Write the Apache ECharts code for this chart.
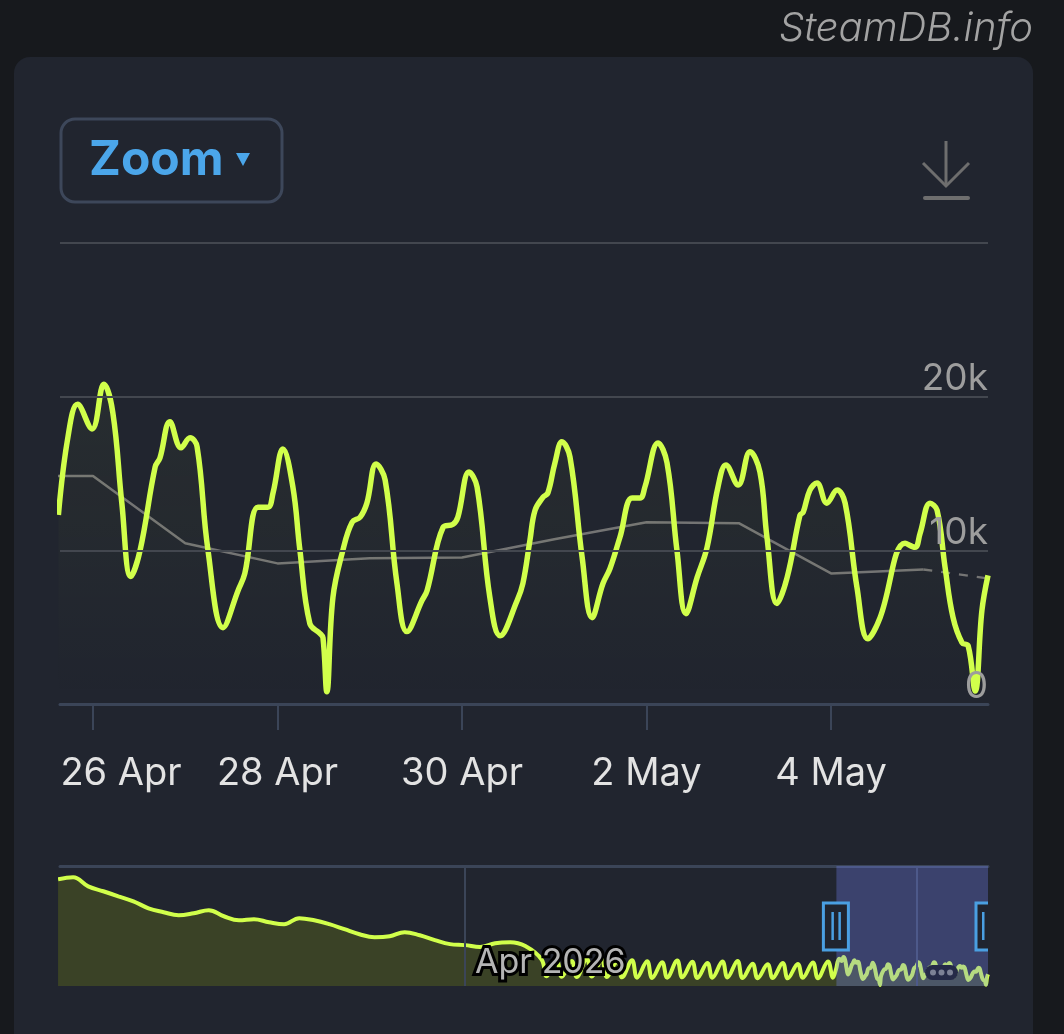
<!DOCTYPE html>
<html><head><meta charset="utf-8">
<script src="https://cdn.jsdelivr.net/npm/echarts@6/dist/echarts.min.js"></script>
<style>
html,body{margin:0;padding:0;background:#17191d;overflow:hidden;}
#card{position:absolute;left:14px;top:57px;width:1019px;height:1010px;border-radius:16px;background:#21252f;}
#chart{position:absolute;left:0;top:0;width:1064px;height:1034px;}
</style>
</head><body><div id="card"></div><div id="chart"></div>
<script>
// ---------- DATA ----------
const mainTimes = [
 '2026-04-25T15:00','2026-04-25T17:30','2026-04-25T20:00','2026-04-25T23:45',
 '2026-04-26T02:50','2026-04-26T05:10','2026-04-26T07:30','2026-04-26T09:50','2026-04-26T12:15','2026-04-26T16:10','2026-04-26T17:25','2026-04-26T20:00','2026-04-26T22:55',
 '2026-04-27T01:15','2026-04-27T03:05','2026-04-27T05:55','2026-04-27T09:50','2026-04-27T13:45','2026-04-27T15:30','2026-04-27T18:55','2026-04-27T21:30','2026-04-27T22:50',
 '2026-04-28T01:25','2026-04-28T04:00','2026-04-28T05:50','2026-04-28T08:25','2026-04-28T11:05','2026-04-28T11:50','2026-04-28T12:50','2026-04-28T14:25','2026-04-28T17:00','2026-04-28T19:25','2026-04-28T21:30','2026-04-28T23:15',
 '2026-04-29T01:40','2026-04-29T04:00','2026-04-29T07:05','2026-04-29T09:40','2026-04-29T13:35','2026-04-29T14:55','2026-04-29T19:05','2026-04-29T21:40','2026-04-29T22:55',
 '2026-04-30T01:50','2026-04-30T03:55','2026-04-30T07:15','2026-04-30T09:55','2026-04-30T14:20','2026-04-30T15:50','2026-04-30T17:40','2026-04-30T19:00','2026-04-30T21:05','2026-04-30T22:20',
 '2026-05-01T00:10','2026-05-01T02:00','2026-05-01T04:05','2026-05-01T07:15','2026-05-01T09:50','2026-05-01T12:40','2026-05-01T14:30','2026-05-01T17:05','2026-05-01T20:15','2026-05-01T22:20','2026-05-01T23:35',
 '2026-05-02T03:00','2026-05-02T05:20','2026-05-02T07:55','2026-05-02T10:15','2026-05-02T13:10','2026-05-02T15:45','2026-05-02T18:35','2026-05-02T20:40','2026-05-02T23:50',
 '2026-05-03T02:55','2026-05-03T05:30','2026-05-03T07:20','2026-05-03T09:55','2026-05-03T12:35','2026-05-03T15:55','2026-05-03T16:45','2026-05-03T18:30','2026-05-03T20:20','2026-05-03T22:55',
 '2026-05-04T01:35','2026-05-04T03:40','2026-05-04T06:45','2026-05-04T09:35','2026-05-04T12:45','2026-05-04T19:15','2026-05-04T21:50','2026-05-04T23:10',
 '2026-05-05T01:45','2026-05-05T03:35','2026-05-05T05:40','2026-05-05T07:45','2026-05-05T10:05','2026-05-05T11:40','2026-05-05T13:30','2026-05-05T15:15','2026-05-05T16:50'
];
const mainValues = [
 12300,17400,19500,17900,
 20800,18950,13070,8300,10000,15420,16010,18370,16670,
 17320,16730,10000,4970,7390,8500,12810,12810,13730,
 16600,14120,10000,5230,4580,4310,800,6930,10000,11830,12160,13070,
 15620,14580,7840,4710,6730,7390,11500,11700,12160,
 15100,14120,6930,4440,6730,7840,10650,12610,13460,13730,
 15690,17060,16080,9540,5620,7840,8820,10850,13400,13400,14120,
 16990,15690,10000,5880,8240,10200,14120,15560,14250,
 16410,15100,10850,6540,8240,12290,12480,13920,14380,13070,
 13920,13070,7580,4250,5620,10460,10200,11110,
 13070,12610,8890,5620,3990,3790,850,6080,8370
];
const avgTimes = ['2026-04-25T00:00','2026-04-26T00:00','2026-04-27T00:00','2026-04-28T00:00','2026-04-29T00:00','2026-04-30T00:00','2026-05-01T00:00','2026-05-02T00:00','2026-05-03T00:00','2026-05-04T00:00','2026-05-05T00:00'];
const avgValues = [14840,14840,10460,9150,9480,9540,10720,11830,11770,8500,8760];
const avgProjTimes = ['2026-05-05T00:00','2026-05-05T16:50'];
const avgProjValues = [8760,8170];

const navDailyTimes = ['2026-03-05T00:00','2026-03-06T00:00','2026-03-07T00:00','2026-03-08T00:00','2026-03-09T00:00','2026-03-10T00:00','2026-03-11T00:00','2026-03-12T00:00','2026-03-13T00:00','2026-03-14T00:00','2026-03-15T00:00','2026-03-16T00:00','2026-03-17T00:00','2026-03-18T00:00','2026-03-19T00:00','2026-03-20T00:00','2026-03-21T00:00','2026-03-22T00:00','2026-03-23T00:00','2026-03-24T00:00','2026-03-25T00:00','2026-03-26T00:00','2026-03-27T00:00','2026-03-28T00:00','2026-03-29T00:00','2026-03-30T00:00','2026-03-31T00:00','2026-04-01T00:00','2026-04-02T00:00','2026-04-03T00:00','2026-04-04T00:00','2026-04-05T00:00'];
const navDailyValues = [76400,77900,71400,67900,64300,60700,55700,52900,50700,52100,54300,50000,47100,47900,45700,44300,48600,47100,44300,40700,37100,35000,35700,38600,36400,32900,30000,29300,27900,30700,31400,28600];
const navTailTimes = [
 '2026-04-06T02:00','2026-04-06T10:00','2026-04-07T02:00','2026-04-07T10:00','2026-04-08T02:00','2026-04-08T10:00','2026-04-09T02:00','2026-04-09T10:00',
 '2026-04-10T02:00','2026-04-10T10:00','2026-04-11T02:00','2026-04-11T10:00','2026-04-12T02:00','2026-04-12T10:00','2026-04-13T02:00','2026-04-13T10:00',
 '2026-04-14T02:00','2026-04-14T10:00','2026-04-15T02:00','2026-04-15T10:00','2026-04-16T02:00','2026-04-16T10:00','2026-04-17T02:00','2026-04-17T10:00',
 '2026-04-18T02:00','2026-04-18T10:00','2026-04-19T02:00','2026-04-19T10:00','2026-04-20T02:00','2026-04-20T10:00','2026-04-21T02:00','2026-04-21T10:00',
 '2026-04-22T02:00','2026-04-22T10:00','2026-04-23T02:00','2026-04-23T10:00','2026-04-24T02:00','2026-04-24T10:00','2026-04-25T02:00','2026-04-25T10:00'
];
const navTailValues = [
 19000,7000,18500,6600,18000,6500,19500,6800,
 18800,6500,17500,6200,18500,6000,17800,5800,
 17000,6000,18200,6200,17300,5700,16500,6000,
 17600,6100,18000,5700,16000,5600,15500,5800,
 16500,5500,15800,5900,16800,5600,17500,6000
];

const xTickDates = ['2026-04-26T00:00','2026-04-28T00:00','2026-04-30T00:00','2026-05-02T00:00','2026-05-04T00:00'];
const xTickLabels = ['26 Apr','28 Apr','30 Apr','2 May','4 May'];
const yTickValues = [0,10000,20000,30000];
const yTickLabels = ['0','10k','20k',''];
const navMonthDates = ['2026-04-01T00:00','2026-05-01T00:00'];
const navMonthLabel = 'Apr 2026';
const viewStart = '2026-04-25T15:25', viewEnd = '2026-05-05T16:50';
const navStart = '2026-03-05T03:05';

// ---------- BUILD ----------
const ts = s => new Date(s).getTime();
const LIME = '#d1ff4b';
const AXIS = '#3b4558';
const FONT = 'Inter, "Noto Sans", sans-serif';
const pair = (T, V) => T.map((t, i) => [ts(t), V[i]]);
const mainData = pair(mainTimes, mainValues);
const navData = pair(navDailyTimes, navDailyValues).concat(pair(navTailTimes, navTailValues), mainData);
const xTickVals = xTickDates.map(ts);

const option = {
  animation: false,
  backgroundColor: 'transparent',
  title: {
    text: 'SteamDB.info', right: 26, top: 4,
    textStyle: {fontFamily: FONT, fontStyle: 'italic', fontWeight: 300, fontSize: 40, color: '#a3a3a3'}
  },
  grid: [
    {left: 60, right: 76, top: 243, height: 461},
    {left: 60, right: 76, top: 866, height: 120}
  ],
  xAxis: [
    {
      type: 'value', gridIndex: 0, min: ts(viewStart), max: ts(viewEnd), z: 10,
      axisLine: {show: true, lineStyle: {color: AXIS, width: 3}},
      axisTick: {show: true, customValues: xTickVals, length: 26, lineStyle: {color: AXIS, width: 2}},
      axisLabel: {
        customValues: xTickVals, color: '#e3e3e3', fontSize: 38, fontFamily: FONT, margin: 51,
        formatter: (v) => {
          const i = xTickVals.indexOf(v);
          const s = i >= 0 ? xTickLabels[i] : '';
          return i === 0 ? '{first|' + s + '}' : s;
        },
        rich: {first: {fontSize: 38, fontFamily: FONT, color: '#e3e3e3', padding: [0, 0, 0, 56]}}
      },
      splitLine: {show: false}
    },
    {
      type: 'value', gridIndex: 1, min: ts(navStart), max: ts(viewEnd), z: 10,
      axisLine: {show: false}, axisTick: {show: false}, splitLine: {show: false},
      axisLabel: {
        customValues: [ts(navMonthDates[0])], inside: true, margin: 6, align: 'left',
        formatter: () => navMonthLabel, padding: [0, 0, 0, 10],
        color: '#b4b4b4', fontSize: 34, fontFamily: FONT,
        textBorderColor: '#000', textBorderWidth: 6
      }
    },
    {
      type: 'value', gridIndex: 1, position: 'top', min: ts(navStart), max: ts(viewEnd),
      axisLine: {show: true, lineStyle: {color: AXIS, width: 3}},
      axisTick: {show: false}, axisLabel: {show: false}, splitLine: {show: false}
    }
  ],
  yAxis: [
    {
      type: 'value', gridIndex: 0, position: 'right', min: 0, max: 30000, interval: 10000, z: 10,
      axisLine: {show: false}, axisTick: {show: false},
      splitLine: {lineStyle: {color: '#43474f', width: 2}},
      axisLabel: {
        inside: true, margin: 0, align: 'right', verticalAlign: 'bottom', padding: [0, 0, -1, 0],
        color: '#9d9d9d', fontSize: 37, fontFamily: FONT,
        formatter: (v) => { const i = yTickValues.indexOf(v); return i >= 0 ? yTickLabels[i] : ''; }
      }
    },
    {type: 'value', gridIndex: 1, min: 0, max: 86000, show: false}
  ],
  series: [
    {
      name: 'avg', type: 'line', xAxisIndex: 0, yAxisIndex: 0, data: pair(avgTimes, avgValues),
      symbol: 'none', lineStyle: {color: '#747474', width: 2.5}, z: 2, silent: true
    },
    {
      name: 'avgProj', type: 'line', xAxisIndex: 0, yAxisIndex: 0, data: pair(avgProjTimes, avgProjValues),
      symbol: 'none', lineStyle: {color: '#747474', width: 2.5, type: [9, 9]}, z: 2, silent: true
    },
    {
      name: 'players', type: 'line', xAxisIndex: 0, yAxisIndex: 0, data: mainData,
      symbol: 'none', smooth: 0.4, lineStyle: {color: LIME, width: 5.5}, z: 3,
      areaStyle: {color: new echarts.graphic.LinearGradient(0, 0, 0, 1, [
        {offset: 0, color: 'rgba(209,255,75,0.06)'}, {offset: 1, color: 'rgba(209,255,75,0.0)'}])}
    },
    {
      name: 'nav', type: 'line', xAxisIndex: 1, yAxisIndex: 1, data: navData,
      symbol: 'none', smooth: 0.4, lineStyle: {color: LIME, width: 4}, z: 3, silent: true,
      areaStyle: {color: '#3a4226', opacity: 1},
      markLine: {
        silent: true, symbol: ['none', 'none'], label: {show: false},
        lineStyle: {color: AXIS, width: 2, type: 'solid'},
        data: navMonthDates.map(d => ({xAxis: ts(d)}))
      }
    },
    {
      name: 'mask', type: 'line', xAxisIndex: 1, yAxisIndex: 1, z: 6, silent: true,
      data: [[ts(viewStart), 0], [ts(viewEnd), 0]], symbol: 'none', lineStyle: {opacity: 0},
      markArea: {silent: true, z: 12, itemStyle: {color: 'rgba(119,136,255,0.3)'},
        data: [[{xAxis: ts(viewStart)}, {xAxis: ts(viewEnd)}]]}
    }
  ],
  graphic: [
    {type: 'rect', id: 'zoomBox', shape: {x: 61, y: 119, width: 221, height: 83, r: 14},
      style: {fill: 'transparent', stroke: '#3d475a', lineWidth: 3}, z: 20},
    {type: 'text', id: 'zoomTxt', x: 89, y: 161, style: {text: 'Zoom', fill: '#4ba6ea', font: 'bold 48px ' + FONT, verticalAlign: 'middle'}, z: 20},
    {type: 'polygon', id: 'zoomTri', shape: {points: [[236, 153], [250, 153], [243, 166]]}, style: {fill: '#4ba6ea'}, z: 20},
    {type: 'line', id: 'dl1', shape: {x1: 946, y1: 141, x2: 946, y2: 186}, style: {stroke: '#6e6e6e', lineWidth: 3}, z: 20},
    {type: 'polyline', id: 'dl2', shape: {points: [[923, 163], [946, 186], [969, 163]]}, style: {stroke: '#6e6e6e', lineWidth: 3, fill: null}, z: 20},
    {type: 'rect', id: 'dl3', shape: {x: 923, y: 196, width: 47, height: 4, r: 2}, style: {fill: '#6e6e6e'}, z: 20}
  ]
};

const chart = echarts.init(document.getElementById('chart'), null, {renderer: 'canvas'});
chart.setOption(option);

// navigator handles placed through the navigator's own scale
const hx0 = chart.convertToPixel({xAxisIndex: 1}, ts(viewStart));
const hx1 = chart.convertToPixel({xAxisIndex: 1}, ts(viewEnd));
const HB = '#4a9fe2';
chart.setOption({graphic: [
  {type: 'rect', id: 'h0', shape: {x: hx0 - 13, y: 903, width: 25, height: 47}, style: {fill: '#20242f', stroke: HB, lineWidth: 3}, z: 30},
  {type: 'rect', id: 'h0a', shape: {x: hx0 - 5, y: 912, width: 2.5, height: 28}, style: {fill: HB}, z: 31},
  {type: 'rect', id: 'h0b', shape: {x: hx0 + 2, y: 912, width: 2.5, height: 28}, style: {fill: HB}, z: 31},
  {type: 'rect', id: 'h1bg', shape: {x: hx1 - 12, y: 903, width: 12, height: 47}, style: {fill: '#20242f'}, z: 30},
  {type: 'polyline', id: 'h1', shape: {points: [[hx1, 903], [hx1 - 12, 903], [hx1 - 12, 950], [hx1, 950]]}, style: {stroke: HB, lineWidth: 3, fill: null}, z: 31},
  {type: 'rect', id: 'h1a', shape: {x: hx1 - 6, y: 912, width: 2.5, height: 28}, style: {fill: HB}, z: 31},
  {type: 'rect', id: 'pill', shape: {x: 925, y: 965, width: 33, height: 15, r: 7.5}, style: {fill: '#252a48'}, z: 30},
  {type: 'circle', id: 'p1', shape: {cx: 933, cy: 972.5, r: 3}, style: {fill: '#7c8196'}, z: 31},
  {type: 'circle', id: 'p2', shape: {cx: 941.5, cy: 972.5, r: 3}, style: {fill: '#7c8196'}, z: 31},
  {type: 'circle', id: 'p3', shape: {cx: 950, cy: 972.5, r: 3}, style: {fill: '#7c8196'}, z: 31}
]});
</script>
</body></html>
